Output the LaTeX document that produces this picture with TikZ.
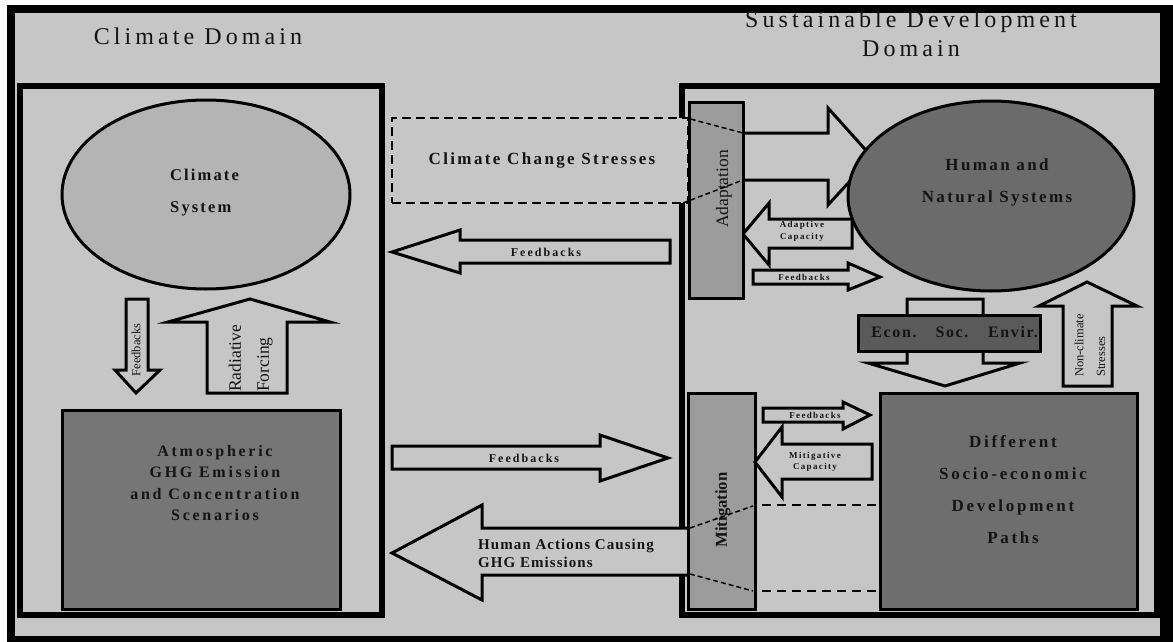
\documentclass[tikz,border=0pt]{standalone}
\usepackage{fontspec}
\setmainfont{Liberation Serif}
\newfontfamily\spfam{Liberation Serif}
\usetikzlibrary{shapes.geometric}
\definecolor{bgc}{HTML}{C6C6C6}
\definecolor{climc}{HTML}{B4B4B4}
\definecolor{adac}{HTML}{9C9C9C}
\definecolor{atmc}{HTML}{767676}
\definecolor{humc}{HTML}{6B6B6B}
\definecolor{difc}{HTML}{6E6E6E}
\definecolor{econc}{HTML}{5A5A5A}
\definecolor{ink}{HTML}{141414}
\newcommand\bfnt[3]{\spfam\bfseries\fontsize{#1}{#2}\selectfont\addfontfeature{LetterSpace=#3}}
\newcommand\rfnt[3]{\spfam\fontsize{#1}{#2}\selectfont\addfontfeature{LetterSpace=#3}}
\tikzset{
  frame/.style={draw=black, line width=6pt, rectangle, inner sep=0pt},
  box/.style={draw=black, line width=3pt, rectangle, inner sep=0pt},
  ell/.style={draw=black, line width=3pt, ellipse, inner sep=0pt},
  blk/.style={draw=black, line width=3pt, fill=bgc, line join=miter},
  dashbox/.style={draw=black, line width=2pt, dash pattern=on 9pt off 5pt, fill=bgc, rectangle, inner sep=0pt},
  dline/.style={draw=black, line width=1.5pt, dash pattern=on 5pt off 3pt},
  hline/.style={draw=black, line width=2pt, dash pattern=on 9pt off 6pt},
  txt/.style={text=ink, inner sep=0pt, align=center},
}
\begin{document}
\begin{tikzpicture}[x=1pt, y=-1pt]
\useasboundingbox (0,0) rectangle (1173,642);
% background and outer frame
\fill[white] (0,0) rectangle (1173,642);
\fill[black] (7,5) rectangle (1173,642);
\fill[bgc] (15,13) rectangle (1160,636);

% titles
\node[txt, anchor=base, font=\rfnt{24}{28}{17}] (t1) at (198,45) {Climate Domain};
\node[txt, anchor=base, font=\rfnt{24}{28}{17}] (t2) at (911,28) {Sustainable Development};
\node[txt, anchor=base, font=\rfnt{24}{28}{17}] (t3) at (911,57) {Domain};

% domain frames
\node[frame, minimum width=362, minimum height=529] (lf) at (201,350.5) {};
\node[frame, minimum width=475, minimum height=529] (rf) at (919.5,350.5) {};

% climate change stresses box
\node[dashbox, minimum width=296, minimum height=85] (ccs) at (540,160.5) {};
\node[txt, font=\bfnt{17}{20}{14}] (ccst) at (542,160) {Climate Change Stresses};

% big adaptation arrow
\draw[blk] (735,133) -- (828,133) -- (828,108) -- (872,157) -- (828,205) -- (828,180) -- (735,180) -- cycle;
% adaptive capacity arrow
\draw[blk] (743,234) -- (769,203) -- (769,219) -- (852,219) -- (852,248) -- (769,248) -- (769,265) -- cycle;
\node[txt, font=\bfnt{9}{12}{15}] (adc) at (802,231) {Adaptive\\Capacity};
% small feedbacks (adaptation)
\draw[blk] (753,270) -- (848,270) -- (848,263) -- (880,277) -- (848,290) -- (848,284) -- (753,284) -- cycle;
\node[txt, font=\bfnt{9}{12}{15}] (fb3) at (804,277) {Feedbacks};

% human and natural systems
\node[ell, fill=humc, minimum width=286, minimum height=190] (hum) at (991,196) {};
\node[txt, font=\bfnt{17}{32}{14}] (humt) at (997,182) {Human and\\Natural Systems};

% adaptation box
\node[box, fill=adac, minimum width=54, minimum height=196] (ada) at (716,200) {};
\node[txt, rotate=90, font=\rfnt{17.5}{20}{0}] (adat) at (724,189) {Adaptation};
\draw[dline] (683,117) -- (743,133);
\draw[dline] (683,203) -- (743,180);

% econ down arrow and box
\draw[blk] (907,299) -- (983,299) -- (983,363) -- (1020,363) -- (945,386) -- (868,363) -- (907,363) -- cycle;
\node[box, fill=econc, minimum width=182, minimum height=36] (eco) at (949,333) {};
\node[txt, font=\bfnt{16}{18}{10}] (e1) at (894,332) {Econ.};
\node[txt, font=\bfnt{16}{18}{10}] (e2) at (952,332) {Soc.};
\node[txt, font=\bfnt{16}{18}{10}] (e3) at (1013,332) {Envir.};

% non-climate stresses up arrow
\draw[blk] (1063,386) -- (1063,306) -- (1039,306) -- (1087,282) -- (1137,306) -- (1112,306) -- (1112,386) -- cycle;
\node[txt, rotate=90, anchor=west, font=\rfnt{12.5}{14}{0}] (nc1) at (1079,377) {Non-climate};
\node[txt, rotate=90, anchor=west, font=\rfnt{12.5}{14}{0}] (nc2) at (1101,377) {Stresses};

% different socio-economic development paths
\node[box, fill=difc, minimum width=257, minimum height=216] (dif) at (1008.5,501) {};
\node[txt, font=\bfnt{17}{32}{16}] (dift) at (1013,490) {Different\\Socio-economic\\Development\\Paths};

% human actions arrow
\draw[blk] (392,553) -- (482,505) -- (482,528) -- (700,528) -- (700,575) -- (482,575) -- (482,600) -- cycle;
\node[txt, anchor=west, align=left, font=\bfnt{15}{18}{7}] (hat) at (478,553) {Human Actions Causing\\GHG Emissions};

% mitigation box
\node[box, fill=adac, minimum width=67, minimum height=216] (mit) at (721.5,501) {};
\node[txt, rotate=90, font=\spfam\bfseries\fontsize{16.7}{20}\selectfont] (mitt) at (723,510) {Mitigation};
\draw[dline] (690,528) -- (753,506);
\draw[dline] (690,574) -- (753,591);
\draw[hline] (762,505) -- (880,505);
\draw[hline] (762,591) -- (880,591);

% mitigative capacity arrow
\draw[blk] (755,462) -- (782,427) -- (782,444) -- (872,444) -- (872,479) -- (782,479) -- (782,497) -- cycle;
\node[txt, font=\bfnt{9}{11}{15}] (mic) at (815,462) {Mitigative\\Capacity};
% small feedbacks (mitigation)
\draw[blk] (763,408) -- (843,408) -- (843,402) -- (870,415) -- (843,429) -- (843,422) -- (763,422) -- cycle;
\node[txt, font=\bfnt{9}{12}{15}] (fb4) at (815,415) {Feedbacks};

% climate system
\node[ell, fill=climc, minimum width=288, minimum height=189] (cs) at (206,194.5) {};
\node[txt, anchor=west, align=left, font=\bfnt{16.5}{32}{13}] (cst) at (170,193) {Climate\\System};

% feedbacks down arrow (left)
\draw[blk] (126,299) -- (148,299) -- (148,370) -- (160,370) -- (136,393) -- (115,370) -- (126,370) -- cycle;
\node[txt, rotate=90, font=\rfnt{12.5}{14}{0}] (fb5) at (136,350) {Feedbacks};

% radiative forcing up arrow
\draw[blk] (207,393) -- (207,322) -- (168,322) -- (250,299) -- (330,322) -- (287,322) -- (287,393) -- cycle;
\node[txt, rotate=90, anchor=west, font=\rfnt{17.5}{20}{0}] (rad) at (235,392) {Radiative};
\node[txt, rotate=90, anchor=west, font=\rfnt{17.5}{20}{0}] (for) at (265,392) {Forcing};

% atmospheric box
\node[box, fill=atmc, minimum width=278, minimum height=199] (atm) at (201,509.5) {};
\node[txt, font=\bfnt{16}{21.3}{17}] (atmt) at (215,483) {Atmospheric\\GHG Emission\\and Concentration\\Scenarios};

% middle feedback arrows
\draw[blk] (392,252) -- (460,230) -- (460,240) -- (670,240) -- (670,263) -- (460,263) -- (460,273) -- cycle;
\node[txt, font=\bfnt{12}{14}{17}] (fb1) at (546,252) {Feedbacks};
\draw[blk] (392,446) -- (600,446) -- (600,435) -- (668,458) -- (600,481) -- (600,469) -- (392,469) -- cycle;
\node[txt, font=\bfnt{12}{14}{17}] (fb2) at (524,458) {Feedbacks};
\end{tikzpicture}
\end{document}
